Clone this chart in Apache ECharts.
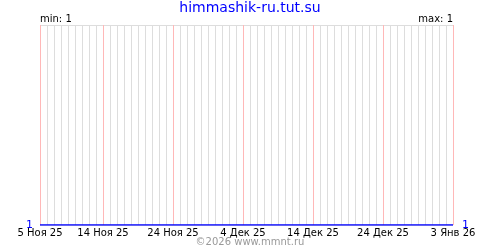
<!DOCTYPE html>
<html>
<head>
<meta charset="utf-8">
<script src="https://cdn.jsdelivr.net/npm/echarts@6/dist/echarts.min.js"></script>
<style>html,body{margin:0;padding:0;background:#fff}#c{width:500px;height:250px}</style>
</head>
<body>
<div id="c"></div>
<script>
var title = 'himmashik-ru.tut.su';
var footer = '©2026 www.mmnt.ru';
var monthNames = ['Янв','Фев','Мар','Апр','Май','Июн','Июл','Авг','Сен','Окт','Ноя','Дек'];
var startDate = [2025, 10, 5];   // 5 Ноя 25
var dayCount = 60;               // through 3 Янв 26
var values = [1,1,1,1,1,1,1,1,1,1, 1,1,1,1,1,1,1,1,1,1,
              1,1,1,1,1,1,1,1,1,1, 1,1,1,1,1,1,1,1,1,1,
              1,1,1,1,1,1,1,1,1,1, 1,1,1,1,1,1,1,1,1,1];
var labelIdx = [0, 9, 19, 29, 39, 49, 59];
var minVal = 1, maxVal = 1;

var categories = [];
for (var i = 0; i < dayCount; i++) {
  var d = new Date(Date.UTC(startDate[0], startDate[1], startDate[2] + i));
  categories.push(d.getUTCDate() + ' ' + monthNames[d.getUTCMonth()] + ' ' + String(d.getUTCFullYear()).slice(2));
}
function isLabel(idx) { return labelIdx.indexOf(idx) >= 0; }

var font = 'DejaVu Sans';
var chart = echarts.init(document.getElementById('c'), null, {renderer: 'canvas'});
chart.setOption({
  animation: false,
  backgroundColor: '#fff',
  title: [
    {text: title, left: 'center', top: 1, padding: 0, textStyle: {color: '#0000ff', fontSize: 14, fontWeight: 'normal', fontFamily: font}},
    {text: 'min: ' + minVal, left: 40, top: 14, padding: 0, textStyle: {color: '#000', fontSize: 10, fontWeight: 'normal', fontFamily: font}},
    {text: 'max: ' + maxVal, right: 47, top: 14, padding: 0, textStyle: {color: '#000', fontSize: 10, fontWeight: 'normal', fontFamily: font}},
    {text: footer, left: 'center', top: 237, padding: 0, textStyle: {color: '#999', fontSize: 10, fontWeight: 'normal', fontFamily: font}}
  ],
  grid: {left: 40, right: 47, top: 25, bottom: 25},
  xAxis: [{
    type: 'category',
    data: categories,
    boundaryGap: false,
    z: 0,
    axisLine: {show: false},
    axisTick: {show: false},
    axisLabel: {
      interval: function (idx) { return isLabel(idx); },
      color: '#000', fontSize: 10, fontFamily: font, margin: 3
    },
    splitLine: {show: true, interval: function (idx) { return !isLabel(idx); },
      lineStyle: {color: '#dddddd', width: 1}}
  }, {
    type: 'category',
    data: categories,
    boundaryGap: false,
    position: 'bottom',
    z: 5,
    axisLine: {show: false},
    axisTick: {show: false},
    axisLabel: {show: false},
    splitLine: {show: true, interval: function (idx) { return isLabel(idx); },
      lineStyle: {color: '#ffb8b8', width: 1}}
  }],
  yAxis: [
    {type: 'value', min: 1, max: 2, interval: 1, position: 'left', z: 0,
     axisLine: {show: false}, axisTick: {show: false},
     axisLabel: {color: '#0000ff', fontSize: 11, fontFamily: font, margin: 7,
                 formatter: function (v) { return v === minVal ? String(v) : ''; }},
     splitLine: {show: true, lineStyle: {color: '#dddddd'}}},
    {type: 'value', min: 1, max: 2, interval: 1, position: 'right', z: 0,
     axisLine: {show: false}, axisTick: {show: false},
     axisLabel: {color: '#0000ff', fontSize: 11, fontFamily: font, margin: 9,
                 formatter: function (v) { return v === maxVal ? String(v) : ''; }},
     splitLine: {show: false}}
  ],
  series: [{
    type: 'line',
    data: values,
    symbol: 'none',
    lineStyle: {color: '#0000ff', width: 1.5},
    z: 30
  }]
});
</script>
</body>
</html>
